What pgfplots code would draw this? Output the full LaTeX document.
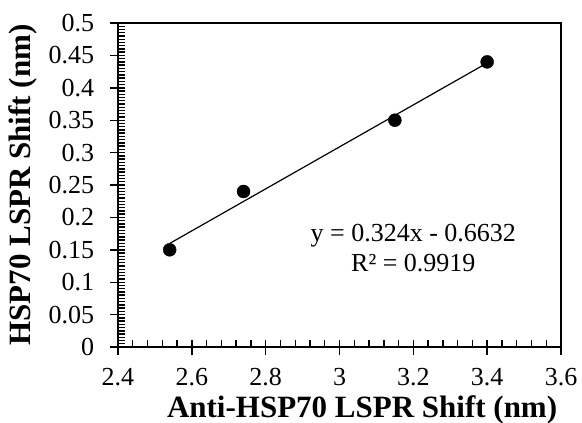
\documentclass[border=0pt]{standalone}
\usepackage{pgfplots}
\pgfplotsset{compat=1.18}
\usepackage{fontspec}
\setmainfont{Liberation Serif}
\begin{document}
\fontsize{26bp}{31bp}\selectfont
\begin{tikzpicture}
\begin{axis}[
  scale only axis, width=443bp, height=324bp,
  xmin=2.4, xmax=3.6, ymin=0, ymax=0.5,
  xtick={2.4,2.6,...,3.6}, ytick={0,0.05,...,0.5},
  minor x tick num=4, minor y tick num=9,
  xtick pos=bottom, ytick pos=left,
  tick align=inside,
  major tick length=15bp, minor tick length=7bp,
  major x tick style={yshift=-8bp},
  major y tick style={xshift=-8bp},
  every tick/.style={black, line width=1.4bp},
  axis line style={line width=1.6bp},
  /pgf/number format/assume math mode=true,
  /pgf/number format/fixed,
  /pgf/number format/precision=2,
  xticklabel style={yshift=-12bp, font=\fontsize{26bp}{31bp}\selectfont},
  yticklabel style={xshift=-15bp, font=\fontsize{26bp}{31bp}\selectfont},
  xlabel={\textbf{Anti-HSP70 LSPR Shift (nm)}},
  ylabel={\textbf{HSP70 LSPR Shift (nm)}},
  xlabel style={at={(axis description cs:0.551,-0.194)}, anchor=center, font=\fontsize{31bp}{36bp}\selectfont},
  ylabel style={at={(axis description cs:-0.214,0.5)}, anchor=center, font=\fontsize{31bp}{36bp}\selectfont},
  clip=false,
]
\addplot[black, line width=1.2bp, no marks] coordinates {(2.54,0.1598) (3.40,0.4384)};
\addplot[only marks, mark=*, mark size=6.5bp, black] coordinates {
  (2.54,0.15) (2.74,0.24) (3.15,0.35) (3.40,0.44)};
\node[align=center, font=\fontsize{26bp}{30bp}\selectfont] at (axis cs:3.2,0.153) {y = 0.324x - 0.6632\\R² = 0.9919};
\end{axis}
\pgfresetboundingbox
\path[use as bounding box] (-118bp,-76bp) rectangle (464bp,347bp);
\end{tikzpicture}
\end{document}
